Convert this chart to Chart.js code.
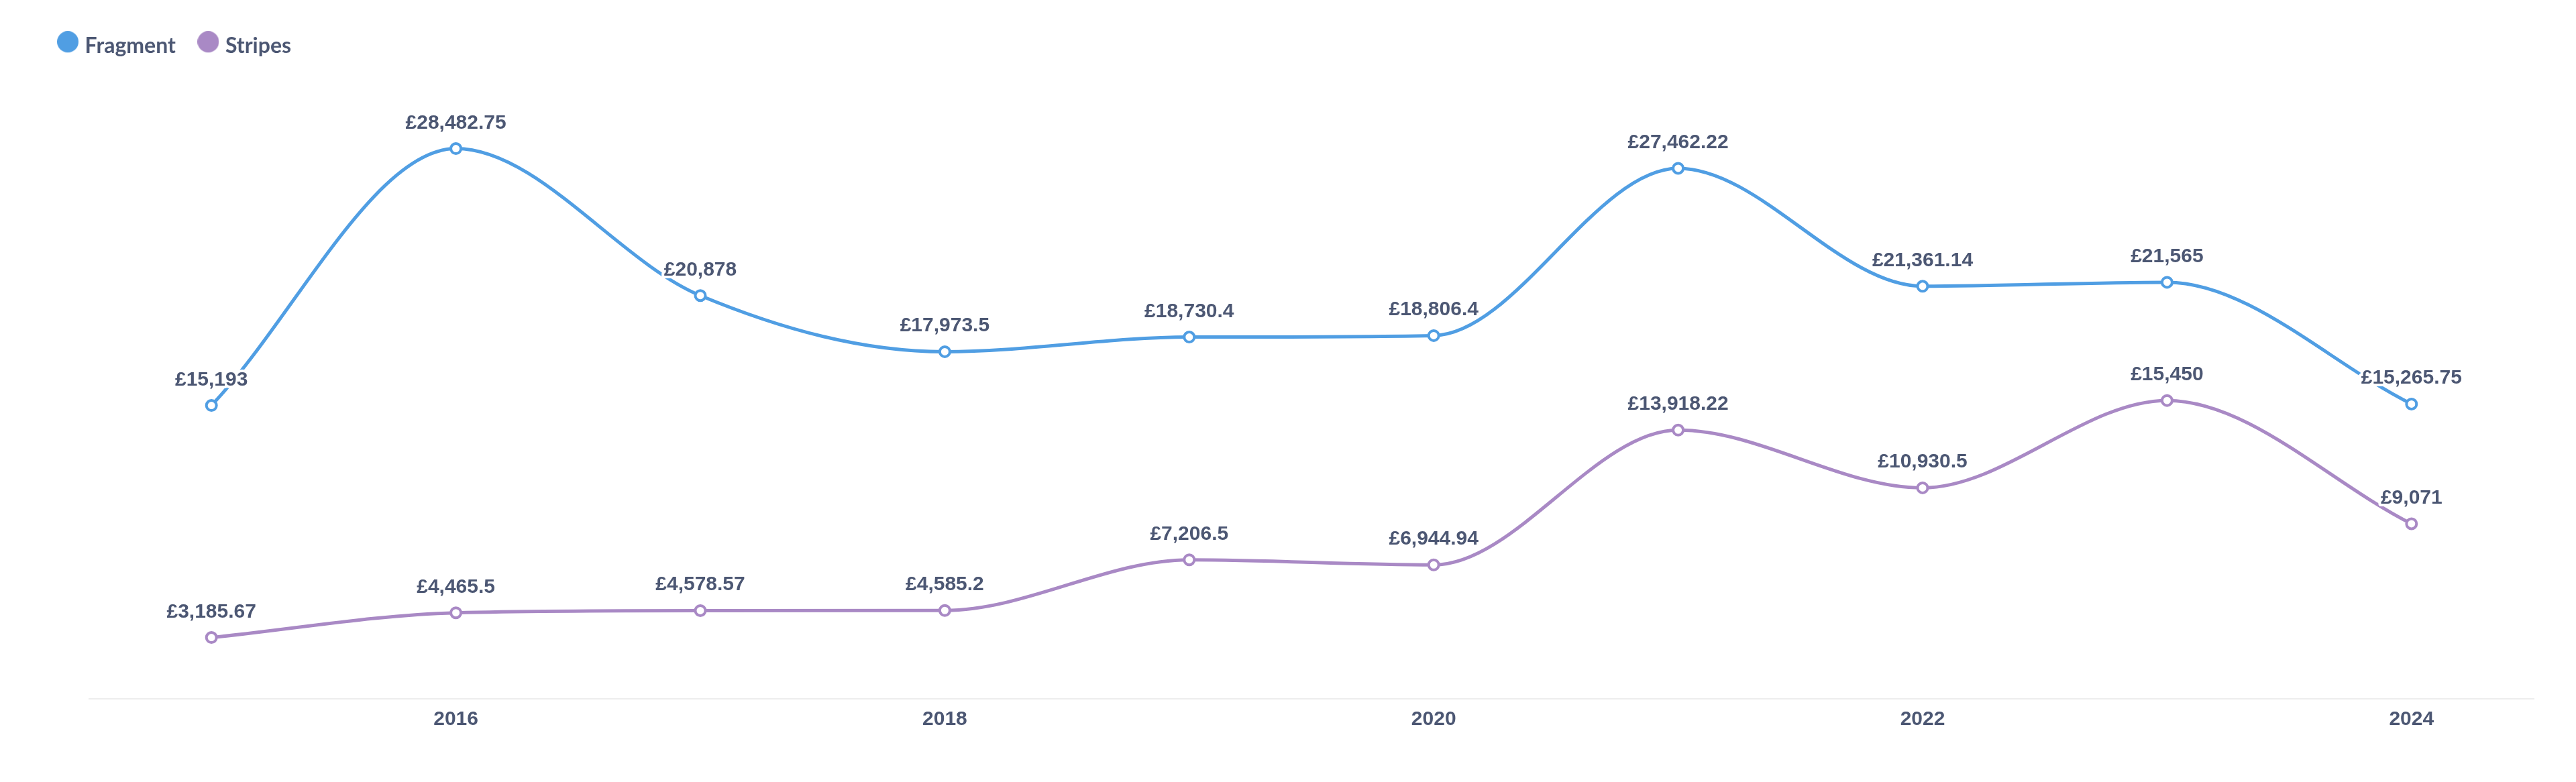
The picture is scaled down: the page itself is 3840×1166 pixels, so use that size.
<!DOCTYPE html>
<html>
<head>
<meta charset="utf-8">
<script src="https://cdn.jsdelivr.net/npm/chart.js@4.4.1/dist/chart.umd.min.js"></script>
<style>
  html, body { margin: 0; padding: 0; background: #ffffff; }
  #wrap { width: 3840px; height: 1166px; }
</style>
</head>
<body>
<div id="wrap"><canvas id="c" width="3840" height="1166"></canvas></div>
<script>
const years = ['2015', '2016', '2017', '2018', '2019', '2020', '2021', '2022', '2023', '2024'];
const tickLabels = ['2016', '2018', '2020', '2022', '2024'];
const fragment = [15193, 28482.75, 20878, 17973.5, 18730.4, 18806.4, 27462.22, 21361.14, 21565, 15265.75];
const stripes = [3185.67, 4465.5, 4578.57, 4585.2, 7206.5, 6944.94, 13918.22, 10930.5, 15450, 9071];
const seriesNames = ['Fragment', 'Stripes'];

const BLUE = '#509EE3';
const PURPLE = '#A989C5';
const TEXT = '#4C5773';

function fmt(v) {
  return '£' + v.toLocaleString('en-GB', { maximumFractionDigits: 2 });
}

function makeDot(color) {
  const c = document.createElement('canvas');
  c.width = 32; c.height = 44;
  const g = c.getContext('2d');
  g.fillStyle = color;
  g.beginPath();
  g.arc(16, 16, 16, 0, Math.PI * 2);
  g.fill();
  return c;
}

const valueLabels = {
  id: 'valueLabels',
  afterDatasetsDraw(chart) {
    const ctx = chart.ctx;
    ctx.save();
    ctx.font = 'bold 30px "Liberation Sans", Arial, sans-serif';
    ctx.textAlign = 'center';
    ctx.textBaseline = 'alphabetic';
    ctx.lineJoin = 'round';
    chart.data.datasets.forEach((ds, i) => {
      const meta = chart.getDatasetMeta(i);
      meta.data.forEach((pt, j) => {
        const txt = fmt(ds.data[j]);
        const x = pt.x, y = pt.y - 30;
        ctx.strokeStyle = '#ffffff';
        ctx.lineWidth = 8;
        ctx.strokeText(txt, x, y);
        ctx.fillStyle = TEXT;
        ctx.fillText(txt, x, y);
      });
    });
    ctx.restore();
  }
};

Chart.defaults.font.family = '"Liberation Sans", Arial, sans-serif';

new Chart(document.getElementById('c'), {
  type: 'line',
  data: {
    labels: years,
    datasets: [
      {
        label: seriesNames[0],
        data: fragment,
        borderColor: BLUE,
        backgroundColor: '#ffffff',
        pointBackgroundColor: '#ffffff',
        pointBorderColor: BLUE,
        borderWidth: 5,
        pointRadius: 7.5,
        pointBorderWidth: 4,
        cubicInterpolationMode: 'monotone',
        fill: false
      },
      {
        label: seriesNames[1],
        data: stripes,
        borderColor: PURPLE,
        backgroundColor: '#ffffff',
        pointBackgroundColor: '#ffffff',
        pointBorderColor: PURPLE,
        borderWidth: 5,
        pointRadius: 7.5,
        pointBorderWidth: 4,
        cubicInterpolationMode: 'monotone',
        fill: false
      }
    ]
  },
  options: {
    responsive: false,
    animation: false,
    devicePixelRatio: 1,
    layout: { padding: { left: 52.6, right: 63, top: 13.3, bottom: 63.6 } },
    plugins: {
      tooltip: { enabled: false },
      legend: {
        display: true,
        position: 'top',
        align: 'start',
        labels: {
          usePointStyle: true,
          pointStyleWidth: 19,
          padding: 39,
          color: TEXT,
          font: { family: 'Lato', weight: 'bold', size: 32 },
          generateLabels(chart) {
            return chart.data.datasets.map((ds, i) => ({
              text: ds.label,
              fillStyle: ds.borderColor,
              strokeStyle: ds.borderColor,
              lineWidth: 0,
              pointStyle: makeDot(ds.borderColor),
              hidden: false,
              datasetIndex: i,
              fontColor: TEXT
            }));
          }
        }
      },
      subtitle: {
        display: true,
        text: '',
        weight: 100,
        position: 'top',
        font: { size: 1, lineHeight: 1 },
        padding: { top: 0, bottom: 82.5 }
      }
    },
    scales: {
      x: {
        type: 'category',
        offset: true,
        grid: { display: false, drawTicks: false },
        border: { display: true, color: '#EDEDED', width: 2 },
        ticks: {
          autoSkip: false,
          maxRotation: 0,
          padding: 12,
          color: TEXT,
          font: { family: '"Liberation Sans", Arial, sans-serif', weight: 'bold', size: 30 },
          callback: function (val) {
            const l = this.getLabelForValue(val);
            return tickLabels.includes(l) ? l : '';
          }
        }
      },
      y: {
        min: 0,
        max: 30000,
        grid: { display: false, drawTicks: false },
        border: { display: false },
        ticks: { display: false },
        afterFit(scale) { scale.width = 80.4; }
      }
    }
  },
  plugins: [valueLabels]
});
</script>
</body>
</html>
